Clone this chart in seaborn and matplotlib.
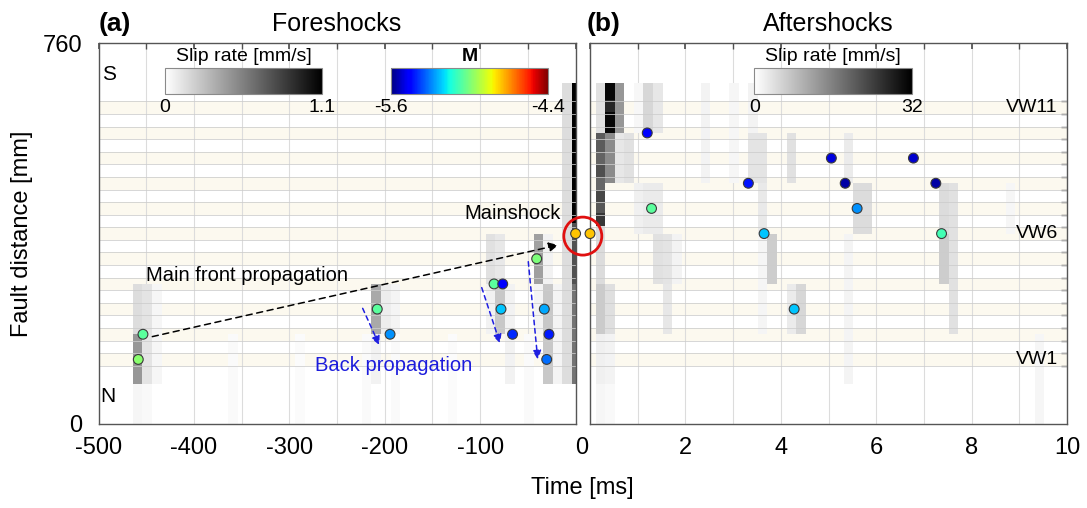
import numpy as np
import pandas as pd
import matplotlib
matplotlib.use("Agg")
import matplotlib.pyplot as plt
import seaborn as sns
from matplotlib.colors import Normalize
from matplotlib.cm import ScalarMappable
from matplotlib.patches import Ellipse
from matplotlib.transforms import ScaledTranslation

# ---------------------------------------------------------------- fault layout
FAULT_LENGTH = 760.0            # mm
VW_FIRST = 128.8                # centre of VW1 [mm]
VW_PITCH = 50.2                 # spacing of velocity-weakening patches [mm]
VW_WIDTH = 25.1                 # patch width [mm]
VW_COUNT = 11
vw_labels = {"VW11": 10, "VW6": 5, "VW1": 0}

# ---------------------------------------------------------------- slip rate (foreshocks, 10 ms bins)
fore_bin = 10.0
fore_t = [-464, -464, -464, -454, -454, -444, -364, -294, -224, -214, -214, -204,
          -194, -194, -134, -94, -94, -84, -84, -74, -54, -44, -44, -34, -34, -24,
          -14, -4, -4, -4]
fore_lo = [0, 80, 180, 80, 0, 80, 0, 0, 0, 180, 80, 180,
           180, 0, 0, 280, 180, 280, 180, 80, 0, 280, 180, 80, 280, 80,
           80, 400, 280, 80]
fore_hi = [80, 180, 280, 280, 80, 280, 180, 180, 180, 280, 180, 280,
           280, 180, 180, 380, 280, 380, 280, 280, 180, 380, 280, 280, 380, 280,
           680, 680, 400, 280]
fore_rate = [0.04, 0.45, 0.15, 0.12, 0.03, 0.04, 0.025, 0.02, 0.025, 0.37, 0.06, 0.08,
             0.05, 0.025, 0.02, 0.13, 0.06, 0.10, 0.24, 0.06, 0.025, 0.41, 0.05, 0.24, 0.06, 0.05,
             0.15, 1.10, 0.75, 0.60]
fore_vmax = 1.1

# ---------------------------------------------------------------- slip rate (aftershocks, 0.2 ms bins)
after_bin = 0.2
after_t = [0.12, 0.12, 0.12, 0.12, 0.12, 0.12, 0.12, 0.12, 0.12, 0.12, 0.12, 0.12,
           0.32, 0.32, 0.32, 0.32, 0.32, 0.32, 0.32,
           0.52, 0.52, 0.72, 0.92, 0.92, 1.12, 1.12, 1.32, 1.32, 1.32, 1.52, 1.52, 1.72,
           2.32, 2.92, 3.32, 3.32, 3.52, 3.52, 3.52, 3.72, 4.12, 4.12, 4.32,
           5.32, 5.32, 5.52, 5.72, 7.32, 7.32, 7.52, 8.72, 9.32]
after_lo = [0, 80, 180, 280, 394, 421, 443, 467, 491, 517, 541, 580,
            0, 80, 180, 480, 580, 623, 646,
            580, 480, 480, 380, 580, 580, 380, 580, 380, 280, 280, 180, 280,
            480, 480, 580, 480, 480, 380, 180, 280, 480, 180, 180,
            480, 80, 380, 380, 380, 280, 180, 380, 0]
after_hi = [80, 180, 280, 394, 421, 443, 467, 491, 517, 541, 580, 680,
            80, 180, 280, 580, 623, 646, 680,
            680, 580, 580, 480, 680, 680, 480, 680, 480, 380, 380, 280, 380,
            680, 680, 680, 580, 580, 480, 380, 380, 580, 280, 280,
            580, 380, 480, 480, 480, 380, 480, 480, 180]
after_rate = [1.2, 1.9, 6.5, 4.4, 25.0, 21.0, 23.0, 19.0, 22.0, 19.5, 20.5, 3.8,
              0.8, 1.5, 4.0, 14.5, 31.0, 27.0, 31.0,
              13.0, 3.0, 3.8, 1.9, 1.0, 5.0, 2.5, 3.1, 2.5, 3.8, 3.4, 3.0, 1.5,
              1.5, 1.2, 1.5, 3.4, 3.4, 2.8, 1.3, 6.3, 3.8, 2.5, 5.0,
              2.5, 1.4, 4.4, 4.4, 4.4, 6.3, 3.8, 1.2, 1.2]
after_vmax = 32.0

# ---------------------------------------------------------------- events (time, position, magnitude)
fore_ev_t = [-458.4, -453.5, -207.9, -194.5, -85.5, -76.4, -78.2, -66.1, -40.8, -32.8, -27.9, -30.3, 0.0]
fore_ev_d = [128.8, 179.0, 229.2, 179.0, 279.4, 279.4, 229.2, 179.0, 329.6, 229.2, 179.0, 128.8, 379.8]
fore_ev_m = [-4.98, -5.05, -5.05, -5.28, -5.05, -5.45, -5.22, -5.40, -5.00, -5.25, -5.42, -5.32, -4.76]

after_ev_t = [0.0, 1.20, 1.29, 3.32, 3.65, 4.28, 5.06, 5.35, 5.60, 6.78, 7.25, 7.37]
after_ev_d = [379.8, 580.6, 430.0, 480.2, 379.8, 229.2, 530.4, 480.2, 430.0, 530.4, 480.2, 379.8]
after_ev_m = [-4.76, -5.45, -5.05, -5.43, -5.22, -5.22, -5.50, -5.56, -5.28, -5.52, -5.56, -5.08]
M_RANGE = (-5.6, -4.4)

# ---------------------------------------------------------------- style
sns.set_theme(style="white")
plt.rcParams["font.family"] = ["Liberation Sans", "DejaVu Sans"]
plt.rcParams["axes.unicode_minus"] = False
plt.rcParams["text.color"] = "black"
JET = matplotlib.colormaps["jet"]

W, H = 1087, 508
fig = plt.figure(figsize=(W / 100, H / 100), dpi=100)
ax_a = fig.add_axes([98.6 / W, 84 / H, 477 / W, 381 / H])
ax_b = fig.add_axes([590 / W, 84 / H, 477 / W, 381 / H])

band_lo = VW_FIRST - VW_WIDTH / 2 + VW_PITCH * np.arange(VW_COUNT)
band_hi = band_lo + VW_WIDTH
band_edges = np.sort(np.concatenate([band_lo, band_hi]))


def slip_grid(t0, lo, hi, rate, width, t_min, t_max):
    t0 = np.asarray(t0, float)
    t_edges = np.unique(np.clip(np.concatenate([t0, t0 + width, [t_min, t_max]]), t_min, t_max))
    d_edges = np.unique(np.concatenate([lo, hi, [0, FAULT_LENGTH]]).astype(float))
    z = np.full((len(d_edges) - 1, len(t_edges) - 1), np.nan)
    for t, a, b, r in zip(t0, lo, hi, rate):
        ti = (t_edges[:-1] >= min(t, t_max) - 1e-9) & (t_edges[1:] <= t + width + 1e-9)
        di = (d_edges[:-1] >= a - 1e-9) & (d_edges[1:] <= b + 1e-9)
        z[np.ix_(di, ti)] = r
    return t_edges, d_edges, np.ma.masked_invalid(z)


def style_panel(ax, xlim, major, minor):
    ax.set_xlim(*xlim)
    ax.set_ylim(0, FAULT_LENGTH)
    for lo, hi in zip(band_lo, band_hi):
        ax.axhspan(lo, hi, color="#fcf9ef", lw=0, zorder=0)
    ax.set_xticks(major)
    ax.set_xticks(minor, minor=True)
    ax.grid(True, which="both", axis="x", color="#dcdcdc", lw=0.8, zorder=0.5)
    ax.set_axisbelow(True)
    for y in band_edges:
        ax.axhline(y, color="#cccccc", lw=0.7, alpha=0.8, zorder=2)
    ax.set_yticks([0, FAULT_LENGTH])
    ax.set_yticks(band_edges, minor=True)
    ax.tick_params(axis="both", which="both", direction="in", top=True, right=True,
                   colors="#505050", labelcolor="black", labelsize=17)
    ax.tick_params(axis="x", which="both", length=4, pad=9)
    ax.tick_params(axis="y", which="minor", length=4)
    ax.tick_params(axis="y", which="major", length=0, pad=12)
    for s in ax.spines.values():
        s.set_color("#555555")
        s.set_linewidth(1.0)
        s.set_zorder(6)


style_panel(ax_a, (-500, 0), np.arange(-500, 1, 100), np.arange(-450, 0, 50))
style_panel(ax_b, (0, 10), np.arange(0, 11, 2), np.arange(1, 10, 2))
ax_a.set_yticklabels(["0", "760"])
ax_a.set_xticklabels(["-500", "-400", "-300", "-200", "-100", "0"])
ax_b.tick_params(axis="y", labelleft=False)
ax_b.set_xticklabels(["", "2", "4", "6", "8", "10"])
# shared zero label sits between the two panels
zero_lab = ax_a.get_xticklabels()[-1]
zero_lab.set_transform(zero_lab.get_transform() + ScaledTranslation(6 / 100, 0, fig.dpi_scale_trans))

# slip-rate maps
te, de, z = slip_grid(fore_t, fore_lo, fore_hi, fore_rate, fore_bin, -500, 0)
ax_a.pcolormesh(te, de, z, cmap="gray_r", vmin=0, vmax=fore_vmax, shading="flat", zorder=1)
te, de, z = slip_grid(after_t, after_lo, after_hi, after_rate, after_bin, 0, 10)
ax_b.pcolormesh(te, de, z, cmap="gray_r", vmin=0, vmax=after_vmax, shading="flat", zorder=1)

# events
for ax, t, d, m in ((ax_a, fore_ev_t, fore_ev_d, fore_ev_m), (ax_b, after_ev_t, after_ev_d, after_ev_m)):
    ev = pd.DataFrame({"time": t, "dist": d, "M": m})
    sns.scatterplot(data=ev, x="time", y="dist", hue="M", palette=JET, hue_norm=M_RANGE,
                    s=50, edgecolor="#3a3a3a", linewidth=0.8, legend=False, ax=ax, zorder=7)
    ax.collections[-1].set_clip_on(False)
    ax.set_xlabel("")
    ax.set_ylabel("")

# mainshock marker ring spanning both panels
p1 = ax_a.transData.transform((0, fore_ev_d[-1]))
p2 = ax_b.transData.transform((0, after_ev_d[0]))
c = fig.transFigure.inverted().transform(((p1 + p2) / 2) + np.array([0, -2.5]))
fig.add_artist(Ellipse(c, 38 / W, 38 / H, transform=fig.transFigure, fill=False,
                       ec="#e01010", lw=2.0, zorder=10))

# propagation arrows
ax_a.annotate("", xy=(-18.1, 357), xytext=(-443.7, 174.3),
              arrowprops=dict(arrowstyle="-|>", color="black", lw=1.1, linestyle=(0, (4, 3)),
                              mutation_scale=14, shrinkA=0, shrinkB=0), zorder=8)
for (x0, y0), (x1, y1) in (((-223.2, 230.7), (-205.8, 157.6)),
                           ((-98.4, 272.0), (-79.2, 161.0)),
                           ((-49.6, 323.8), (-39.7, 129.0))):
    ax_a.annotate("", xy=(x1, y1), xytext=(x0, y0),
                  arrowprops=dict(arrowstyle="-|>", color="#1f1fe0", lw=1.1, linestyle=(0, (3, 2.5)),
                                  mutation_scale=13, shrinkA=0, shrinkB=0), zorder=8)

ax_a.text(-450.3, 297, "Main front propagation", fontsize=14.5, va="center", ha="left", zorder=9)
ax_a.text(-273, 116, "Back propagation", fontsize=14.5, color="#1c1cdc", va="center", ha="left", zorder=9)
ax_a.text(-15.3, 420, "Mainshock", fontsize=14.5, va="center", ha="right", zorder=9)
ax_a.text(0.008, 1 - 31 / 381, "S", transform=ax_a.transAxes, fontsize=15, va="center", ha="left", zorder=9)
ax_a.text(0.004, 27 / 381, "N", transform=ax_a.transAxes, fontsize=15, va="center", ha="left", zorder=9)
for name, i in vw_labels.items():
    ax_b.text(0.981, VW_FIRST + VW_PITCH * i, name, transform=ax_b.get_yaxis_transform(),
              fontsize=14, ha="right", va="center", zorder=9)

# panel headings
ax_a.text(0.5, 1 + 19 / 381, "Foreshocks", transform=ax_a.transAxes, ha="center", va="center", fontsize=18)
ax_b.text(0.5, 1 + 19 / 381, "Aftershocks", transform=ax_b.transAxes, ha="center", va="center", fontsize=18)
fig.text(99 / W, 1 - 24.5 / H, "(a)", fontsize=19, fontweight="bold", ha="left", va="center")
fig.text(587 / W, 1 - 24.5 / H, "(b)", fontsize=19, fontweight="bold", ha="left", va="center")
fig.text(582.7 / W, 1 - 488 / H, "Time [ms]", fontsize=17, ha="center", va="center")
fig.text(22 / W, 1 - 233.5 / H, "Fault distance [mm]", fontsize=17, rotation=90, ha="center", va="center")


# colour bars
def add_bar(x0, cmap, lo, hi, title, labels, bold=False):
    cax = fig.add_axes([x0 / W, 1 - 94.3 / H, 157.4 / W, 26 / H])
    cb = fig.colorbar(ScalarMappable(norm=Normalize(lo, hi), cmap=cmap), cax=cax, orientation="horizontal")
    cb.set_ticks([])
    cb.outline.set_edgecolor("#8a8a8a")
    cb.outline.set_linewidth(0.8)
    cax.text(0.5, 1.45, title, transform=cax.transAxes, ha="center", va="center",
             fontsize=14, fontweight="bold" if bold else "normal")
    cax.text(0, -0.5, labels[0], transform=cax.transAxes, ha="center", va="center", fontsize=14)
    cax.text(1, -0.5, labels[1], transform=cax.transAxes, ha="center", va="center", fontsize=14)


add_bar(164.8, "gray_r", 0, fore_vmax, "Slip rate [mm/s]", ("0", "1.1"))
add_bar(390.7, JET, *M_RANGE, "M", ("-5.6", "-4.4"), bold=True)
add_bar(754.3, "gray_r", 0, after_vmax, "Slip rate [mm/s]", ("0", "32"))

fig.savefig("out.png", dpi=100)
